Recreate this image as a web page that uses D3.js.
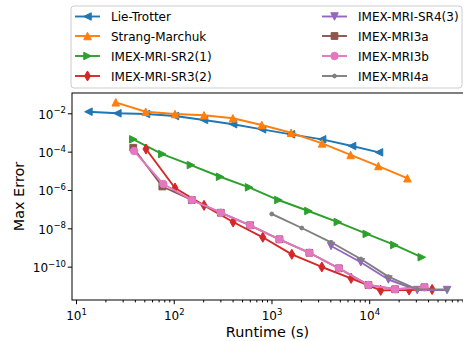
<!DOCTYPE html>
<html>
<head>
<meta charset="utf-8">
<script src="https://cdn.jsdelivr.net/npm/d3@7"></script>
<style>
  body { margin: 0; background: #fff; }
  text { font-family: "DejaVu Sans", sans-serif; fill: #000; }
</style>
</head>
<body>
<div id="chart"></div>
<script>
// series names, colours and markers (legend order)
const seriesNames = ["Lie-Trotter", "Strang-Marchuk", "IMEX-MRI-SR2(1)", "IMEX-MRI-SR3(2)",
  "IMEX-MRI-SR4(3)", "IMEX-MRI3a", "IMEX-MRI3b", "IMEX-MRI4a"];
const seriesColors = ["#1f77b4", "#ff7f0e", "#2ca02c", "#d62728",
  "#9467bd", "#8c564b", "#e377c2", "#7f7f7f"];
const seriesMarkers = ["<", "^", ">", "d", "v", "s", "o", "."];

// runtime (s) and max error
const lieTrotterRuntime = [13.4, 26.5, 52, 103, 204, 405, 801, 1585, 3296, 6680, 12600];
const lieTrotterError = [1.21e-2, 1.0e-2, 9.2e-3, 7.2e-3, 4.5e-3, 2.7e-3, 1.46e-3, 8.0e-4, 4.4e-4, 1.97e-4, 9.2e-5];

const strangRuntime = [25.5, 51.6, 103, 204, 403, 795, 1585, 3296, 6450, 12400, 24600];
const strangError = [3.75e-2, 1.21e-2, 9.2e-3, 7.9e-3, 5.5e-3, 2.45e-3, 9.7e-4, 2.7e-4, 6.7e-5, 1.78e-5, 4.1e-6];

const sr2Runtime = [38.5, 76.4, 150, 298, 590, 1178, 2387, 4774, 9440, 18100, 34500];
const sr2Error = [4.4e-4, 7.5e-5, 2.0e-5, 4.9e-6, 1.38e-6, 3.0e-7, 8.0e-8, 2.13e-8, 5.1e-9, 1.35e-9, 3.1e-10];

const sr3Runtime = [52, 103, 204, 405, 815, 1614, 3275, 6530, 13100, 25600, 44000];
const sr3Error = [1.37e-4, 1.27e-6, 1.58e-7, 2.13e-8, 3.4e-9, 4.4e-10, 9.6e-11, 2.45e-11, 5.8e-12, 6.0e-12, 6.5e-12];

const sr4Runtime = [4070, 8200, 15700, 31000, 62600];
const sr4Error = [1.2e-9, 1.7e-10, 2.14e-11, 6.0e-12, 6.0e-12];

const mri3aRuntime = [38.5, 76.4, 153, 303, 604, 1205, 2443, 4886, 9820, 18400, 36700];
const mri3aError = [1.6e-4, 1.52e-6, 3.0e-7, 6.5e-8, 1.44e-8, 2.67e-9, 5.3e-10, 8.2e-11, 1.1e-11, 6.6e-12, 8.4e-12];

const mri3bRuntime = [39.3, 78.3, 153, 303, 604, 1205, 2443, 4886, 9820, 18400, 36700];
const mri3bError = [1.08e-4, 2.05e-6, 3.0e-7, 6.5e-8, 1.44e-8, 2.67e-9, 5.3e-10, 8.2e-11, 1.1e-11, 6.6e-12, 8.4e-12];

const mri4aRuntime = [1007, 2042, 4070, 8200, 15700, 30900, 62600];
const mri4aError = [5.6e-8, 1.04e-8, 1.87e-9, 2.5e-10, 3.0e-11, 6.5e-12, 6.5e-12];

const xTickExponents = [1, 2, 3, 4];
const yTickExponents = [-2, -4, -6, -8, -10];

const runtimes = [lieTrotterRuntime, strangRuntime, sr2Runtime, sr3Runtime,
  sr4Runtime, mri3aRuntime, mri3bRuntime, mri4aRuntime];
const errors = [lieTrotterError, strangError, sr2Error, sr3Error,
  sr4Error, mri3aError, mri3bError, mri4aError];

const series = seriesNames.map((name, i) => ({
  name,
  color: seriesColors[i],
  marker: seriesMarkers[i],
  points: runtimes[i].map((t, j) => ({ t, e: errors[i][j] })),
}));

const width = 463;
const height = 341;
const plot = { left: 72, top: 93, right: 465, bottom: 300 };

const x = d3.scaleLog()
  .domain([Math.pow(10, 0.959), Math.pow(10, 4.98)])
  .range([plot.left, plot.right]);
const y = d3.scaleLog()
  .domain([Math.pow(10, -0.94), Math.pow(10, -11.74)])
  .range([plot.top, plot.bottom]);

const ms = 7.5; // marker size in px

function markerPath(type, s) {
  const h = s / 2;
  switch (type) {
    case "<": return `M${-h},0L${h},${-h}L${h},${h}Z`;
    case ">": return `M${h},0L${-h},${-h}L${-h},${h}Z`;
    case "^": return `M0,${-h}L${-h},${h}L${h},${h}Z`;
    case "v": return `M0,${h}L${-h},${-h}L${h},${-h}Z`;
    case "d": {
      const dy = s * 0.707 * 0.95, dx = s * 0.424 * 0.95;
      return `M0,${-dy}L${dx},0L0,${dy}L${-dx},0Z`;
    }
    case "s": {
      const a = s * 0.45;
      return `M${-a},${-a}H${a}V${a}H${-a}Z`;
    }
    case "o": {
      const r = s * 0.5;
      return `M${r},0A${r},${r} 0 1,1 ${-r},0A${r},${r} 0 1,1 ${r},0Z`;
    }
    case ".": {
      const r = s * 0.26;
      return `M${r},0A${r},${r} 0 1,1 ${-r},0A${r},${r} 0 1,1 ${r},0Z`;
    }
  }
}

const svg = d3.select("#chart").append("svg")
  .attr("width", width)
  .attr("height", height);

svg.append("defs").append("clipPath").attr("id", "plotclip")
  .append("rect")
  .attr("x", plot.left).attr("y", plot.top)
  .attr("width", plot.right - plot.left).attr("height", plot.bottom - plot.top);

// ---- axes ----
const minorX = [];
for (let e = 0; e <= 5; e++) {
  for (let k = 2; k <= 9; k++) {
    const v = k * Math.pow(10, e);
    if (v >= x.domain()[0] && v <= x.domain()[1]) minorX.push(v);
  }
}
const majorX = xTickExponents.map((e) => Math.pow(10, e));
const majorY = yTickExponents.map((e) => Math.pow(10, e));

const xMinorAxis = svg.append("g")
  .attr("transform", `translate(0,${plot.bottom})`)
  .call(d3.axisBottom(x).tickValues(minorX).tickSize(2.4).tickFormat(""));
const xAxis = svg.append("g")
  .attr("transform", `translate(0,${plot.bottom})`)
  .call(d3.axisBottom(x).tickValues(majorX).tickSize(4.2).tickFormat(""));
const yAxis = svg.append("g")
  .attr("transform", `translate(${plot.left},0)`)
  .call(d3.axisLeft(y).tickValues(majorY).tickSize(4.2).tickFormat(""));
[xMinorAxis, xAxis, yAxis].forEach((g) => {
  g.select(".domain").remove();
  g.selectAll(".tick line").attr("stroke", "#000").attr("stroke-width", 1);
});

function powLabel(sel, exp) {
  sel.append("tspan").text("10");
  sel.append("tspan")
    .attr("dy", -5.5)
    .attr("font-size", 8.5)
    .text(exp < 0 ? "\u2212" + Math.abs(exp) : String(exp));
}

xAxis.selectAll(".tick").each(function (d, i) {
  const t = d3.select(this).append("text")
    .attr("y", 20)
    .attr("font-size", 12)
    .attr("text-anchor", "middle");
  powLabel(t, xTickExponents[i]);
});
yAxis.selectAll(".tick").each(function (d, i) {
  const t = d3.select(this).append("text")
    .attr("x", -6)
    .attr("y", 5)
    .attr("font-size", 12)
    .attr("text-anchor", "end");
  powLabel(t, yTickExponents[i]);
});

svg.append("text")
  .attr("x", (plot.left + 463) / 2)
  .attr("y", 337)
  .attr("text-anchor", "middle")
  .attr("font-size", 14.4)
  .text("Runtime (s)");
svg.append("text")
  .attr("transform", `translate(24,${(plot.top + plot.bottom) / 2}) rotate(-90)`)
  .attr("text-anchor", "middle")
  .attr("font-size", 14.4)
  .text("Max Error");

// ---- series ----
const line = d3.line().x((d) => x(d.t)).y((d) => y(d.e));
const marks = svg.append("g").attr("clip-path", "url(#plotclip)");
series.forEach((s) => {
  const g = marks.append("g");
  g.append("path")
    .datum(s.points)
    .attr("d", line)
    .attr("fill", "none")
    .attr("stroke", s.color)
    .attr("stroke-width", 1.9)
    .attr("stroke-linejoin", "round")
    .attr("stroke-linecap", "square");
  g.selectAll("path.mk")
    .data(s.points)
    .enter()
    .append("path")
    .attr("class", "mk")
    .attr("d", markerPath(s.marker, ms))
    .attr("transform", (d) => `translate(${x(d.t)},${y(d.e)})`)
    .attr("fill", s.color)
    .attr("stroke", s.color)
    .attr("stroke-width", 1);
});

// frame
svg.append("rect")
  .attr("x", plot.left).attr("y", plot.top)
  .attr("width", plot.right - plot.left).attr("height", plot.bottom - plot.top)
  .attr("fill", "none").attr("stroke", "#000").attr("stroke-width", 1);

// ---- legend ----
const legend = svg.append("g");
legend.append("rect")
  .attr("x", 71).attr("y", 6)
  .attr("width", 391).attr("height", 82)
  .attr("rx", 3)
  .attr("fill", "#fff").attr("fill-opacity", 0.8)
  .attr("stroke", "#cccccc").attr("stroke-width", 1);
const rowY = [16.5, 36, 56, 76];
const colX = [75, 322];
series.forEach((s, i) => {
  const cx = colX[Math.floor(i / 4)];
  const cy = rowY[i % 4];
  const item = legend.append("g").attr("transform", `translate(${cx},${cy})`);
  item.append("line")
    .attr("x1", 0).attr("x2", 25).attr("y1", 0).attr("y2", 0)
    .attr("stroke", s.color).attr("stroke-width", 1.9);
  item.append("path")
    .attr("d", markerPath(s.marker, ms))
    .attr("transform", "translate(12.5,0)")
    .attr("fill", s.color).attr("stroke", s.color).attr("stroke-width", 1);
  item.append("text")
    .attr("x", 36).attr("y", 4.5)
    .attr("font-size", 12)
    .text(s.name);
});
</script>
</body>
</html>
